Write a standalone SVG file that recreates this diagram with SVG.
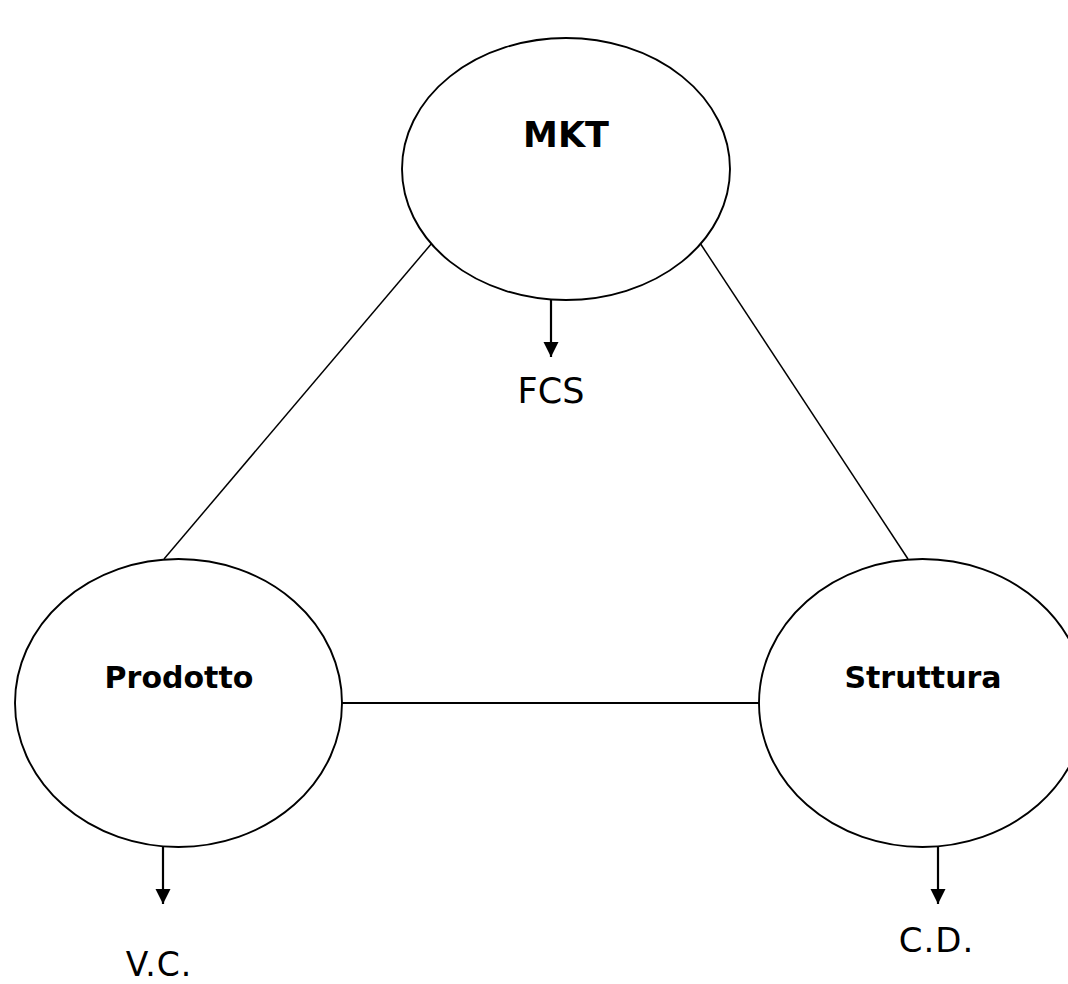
<svg xmlns="http://www.w3.org/2000/svg" width="1068" height="984" viewBox="0 0 1068 984">
<style>
.node{fill:#fff;stroke:#000;stroke-width:1.9}
.lbl{font-family:"DejaVu Sans",Verdana,sans-serif;font-weight:bold;fill:#000;text-anchor:middle}
.out{font-family:"DejaVu Sans",Verdana,sans-serif;fill:#000;text-anchor:middle}
.edge{stroke:#000;fill:none;stroke-width:1.5}
.arr{stroke:#000;fill:none;stroke-width:2.2}
</style>
<defs>
<marker id="ah" markerUnits="userSpaceOnUse" markerWidth="16" markerHeight="16" refX="15" refY="8" orient="auto">
<path d="M0,0.5 L15,8 L0,15.5 Z" fill="#000"/>
</marker>
</defs>
<rect width="1068" height="984" fill="#fff"/>
<g id="connectors">
<line class="edge" x1="432" y1="243" x2="164" y2="559"/>
<line class="edge" x1="700" y1="243" x2="908" y2="559"/>
<line class="arr" x1="342" y1="703" x2="759" y2="703"/>
<line class="arr" x1="551" y1="300" x2="551" y2="357" marker-end="url(#ah)"/>
<line class="arr" x1="163" y1="847" x2="163" y2="904" marker-end="url(#ah)"/>
<line class="arr" x1="938" y1="847" x2="938" y2="904" marker-end="url(#ah)"/>
</g>
<g id="node-mkt">
<ellipse class="node" cx="566" cy="169" rx="164" ry="131"/>
<text class="lbl" x="566" y="147" font-size="35">MKT</text>
</g>
<g id="node-prodotto">
<ellipse class="node" cx="178.5" cy="703" rx="163.5" ry="144"/>
<text class="lbl" x="179" y="688" font-size="30">Prodotto</text>
</g>
<g id="node-struttura">
<ellipse class="node" cx="922.5" cy="703" rx="163.5" ry="144"/>
<text class="lbl" x="923" y="688" font-size="30">Struttura</text>
</g>
<g id="outputs">
<text class="out" x="551" y="403" font-size="35">FCS</text>
<text class="out" x="159" y="976" font-size="33" letter-spacing="1">V.C.</text>
<text class="out" x="936.5" y="952" font-size="34" letter-spacing="1">C.D.</text>
</g>
</svg>
